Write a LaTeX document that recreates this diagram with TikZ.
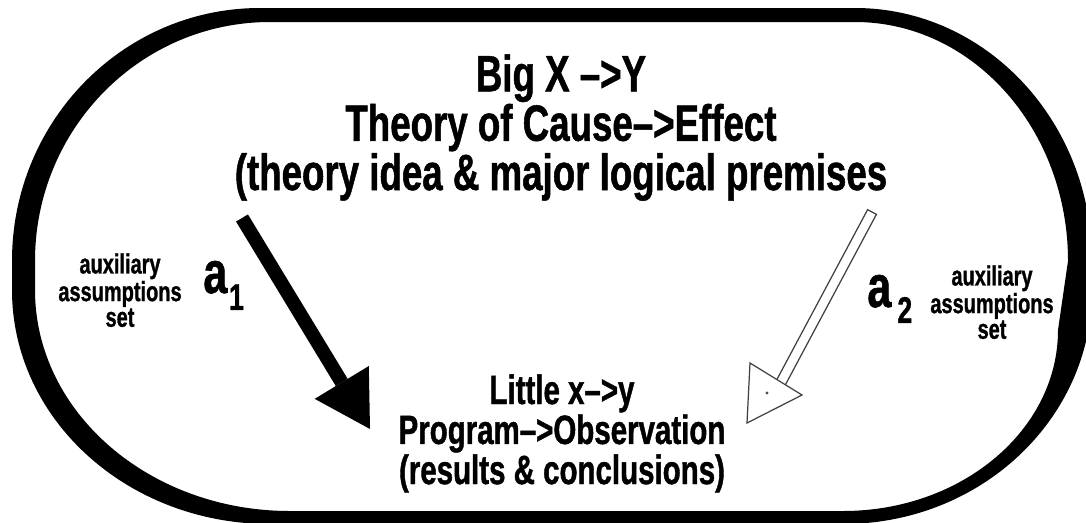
\documentclass[tikz,border=0pt]{standalone}
\usepackage{fontspec}
\setmainfont{Liberation Sans}[FakeStretch=0.72, FakeBold=1]
\usepackage{tikz}
\usetikzlibrary{arrows.meta}
\usetikzlibrary{calc}

\begin{document}
\begin{tikzpicture}[
    x=0.02cm, y=-0.02cm,
    title/.style={font=\bfseries\fontsize{29}{26.4}\selectfont, align=center, inner sep=0pt},
    result/.style={font=\bfseries\fontsize{23.3}{19}\selectfont, align=center, inner sep=0pt},
    aux/.style={font=\bfseries\fontsize{15.8}{12.75}\selectfont, align=center, inner sep=0pt},
    letter/.style={font=\bfseries\fontsize{34}{34}\selectfont, inner sep=0pt},
    solidarrow/.style={-{Triangle[length=31pt, width=36pt, line width=0pt]}, line width=7.9pt},
    hollow/.style={draw=black!75, line width=0.7pt}
]
    \useasboundingbox (0,0) rectangle (1086,522);

    % Frame
    \fill[even odd rule]
        (12,261) arc[start angle=180, end angle=270, x radius=248, y radius=253]
        -- (855,8) arc[start angle=270, end angle=360, x radius=237, y radius=253]
        -- (1092,290) arc[start angle=0, end angle=90, x radius=249, y radius=234]
        -- (270,524) arc[start angle=90, end angle=180, x radius=258, y radius=234]
        -- cycle
        (35,261) arc[start angle=180, end angle=270, x radius=235, y radius=239]
        -- (855,22) arc[start angle=270, end angle=360, x radius=213, y radius=239]
        -- (1058,330) arc[start angle=0, end angle=90, x radius=215, y radius=181]
        -- (290,511) arc[start angle=90, end angle=180, x radius=255, y radius=221]
        -- cycle;

    % Texts
    \node[title, anchor=north] (big) at (561,54) {Big X –>Y\\Theory of Cause–>Effect\\(theory idea \& major logical premises};
    \node[result, anchor=north] (little) at (562,374) {Little x–>y\\Program–>Observation\\(results \& conclusions)};
    \node[aux, anchor=north] (auxl) at (120,253) {auxiliary\\assumptions\\set};
    \node[aux, anchor=north] (auxr) at (992,265) {auxiliary\\assumptions\\set};
    \node[letter, anchor=base west] (a1) at (203,293) {a\kern1pt\raisebox{-9.6pt}{\fontsize{21}{21}\selectfont 1}};
    \node[letter, anchor=base west] (a2) at (867,307) {a\kern3.5pt\raisebox{-9pt}{\fontsize{21}{21}\selectfont 2}};

    % Arrows
    \coordinate (ltop) at (242,218);
    \coordinate (ltip) at (370,429);
    \draw[solidarrow] (ltop) -- (ltip);

    \coordinate (rtop) at (872,212);
    \coordinate (rend) at (778,388);
    \draw[hollow, fill=white] ($(rtop)!0.1cm!90:(rend)$) -- ($(rend)!0.1cm!-90:(rtop)$)
        -- ($(rend)!0.1cm!90:(rtop)$) -- ($(rtop)!0.1cm!-90:(rend)$) -- cycle;
    \draw[hollow, fill=white] (750,363) -- (802,395) -- (747,423) -- cycle;
    \fill[black!70] (767,393) circle[radius=0.9pt];
\end{tikzpicture}
\end{document}
